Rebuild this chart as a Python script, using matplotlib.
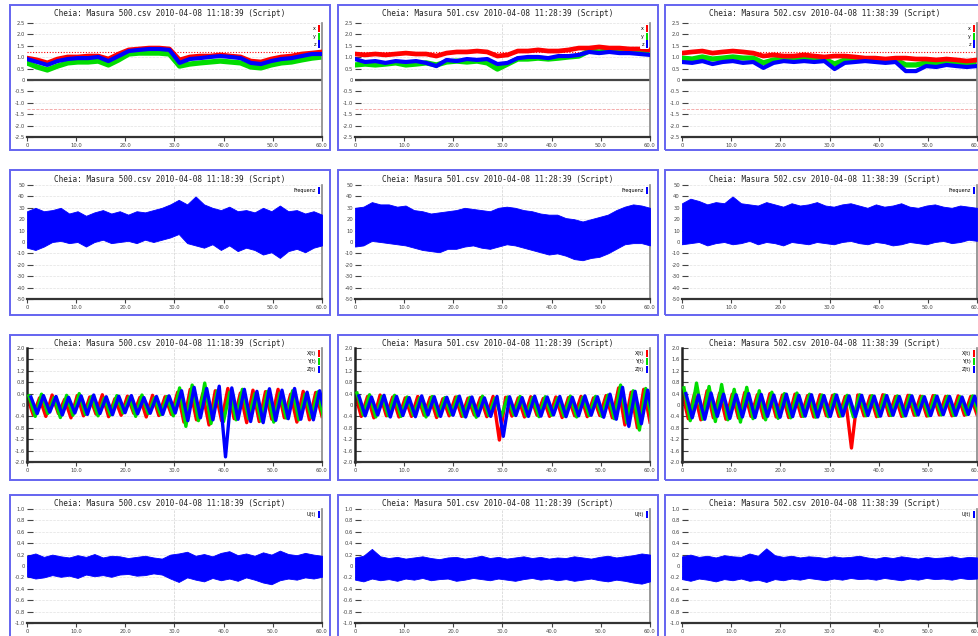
import numpy as np
import matplotlib
matplotlib.use("Agg")
import matplotlib.pyplot as plt
from matplotlib.patches import Rectangle, Patch

# ---------------- data ----------------
files = ["500.csv", "501.csv", "502.csv"]
times = ["11:18:39", "11:28:39", "11:38:39"]
date = "2010-04-08"

x_ticks = [0, 10, 20, 30, 40, 50, 60]
x_labels = ["0", "10.0", "20.0", "30.0", "40.0", "50.0", "60.0"]

# Row 1: three channels per file (x, y, z)
r1_labels = ["x", "y", "z"]
r1_red = [
    [0.96,0.88,0.75,0.92,1.01,1.01,1.05,1.05,0.92,1.14,1.32,1.36,1.40,1.40,1.36,0.88,1.01,1.05,1.05,1.10,1.05,1.01,0.83,0.79,0.92,1.01,1.05,1.14,1.18,1.23],
    [1.14,1.10,1.14,1.10,1.14,1.18,1.14,1.14,1.05,1.18,1.23,1.23,1.27,1.23,1.05,1.10,1.27,1.27,1.32,1.27,1.27,1.32,1.40,1.40,1.45,1.40,1.40,1.36,1.36,1.32],
    [1.18,1.23,1.27,1.18,1.23,1.27,1.23,1.18,1.05,1.10,1.05,1.05,1.10,1.05,1.01,1.05,1.05,1.01,0.96,0.96,0.92,0.96,0.96,0.92,0.92,0.88,0.92,0.88,0.83,0.88],
]
r1_green = [
    [0.75,0.57,0.44,0.61,0.75,0.79,0.79,0.83,0.66,0.88,1.14,1.18,1.18,1.18,1.14,0.61,0.70,0.75,0.79,0.83,0.79,0.75,0.57,0.53,0.66,0.75,0.79,0.88,0.96,1.01],
    [0.66,0.70,0.66,0.70,0.75,0.66,0.70,0.75,0.66,0.79,0.83,0.79,0.83,0.75,0.48,0.70,0.92,0.92,0.96,0.92,0.96,1.01,1.05,1.27,1.23,1.27,1.32,1.27,1.23,1.18],
    [0.96,0.92,1.01,0.92,0.96,1.01,0.96,0.96,0.75,0.88,0.92,0.92,0.96,0.92,0.92,0.70,0.88,0.88,0.88,0.88,0.83,0.88,0.66,0.66,0.75,0.75,0.79,0.75,0.75,0.79],
]
r1_blue = [
    [0.92,0.79,0.66,0.83,0.92,0.96,0.96,1.01,0.83,1.05,1.27,1.32,1.36,1.36,1.32,0.75,0.92,0.96,1.01,1.05,1.01,0.96,0.75,0.70,0.83,0.92,0.96,1.05,1.14,1.14],
    [0.92,0.79,0.83,0.75,0.83,0.79,0.83,0.75,0.61,0.88,0.83,0.92,0.88,0.92,0.70,0.75,0.96,1.01,1.01,0.96,1.05,1.05,1.10,1.23,1.18,1.23,1.18,1.18,1.14,1.10],
    [0.79,0.75,0.83,0.70,0.79,0.83,0.75,0.79,0.53,0.75,0.83,0.79,0.83,0.79,0.83,0.48,0.75,0.79,0.83,0.79,0.75,0.79,0.39,0.39,0.61,0.57,0.66,0.61,0.57,0.61],
]
r1_yticks = [-2.5, -2.0, -1.5, -1.0, -0.5, 0.0, 0.5, 1.0, 1.5, 2.0, 2.5]
r1_limit = 1.25

# Row 2: frequency deviation band (upper / lower envelope)
r2_label = "Frequenz"
r2_upper = [
    [27,30,27,28,30,25,27,23,26,28,25,27,24,27,26,28,30,33,37,33,40,33,30,28,31,27,28,26,30,27,32,27,28,25,27,24],
    [30,31,35,33,33,31,32,28,27,25,26,27,28,30,29,28,27,30,31,30,28,27,25,24,24,21,20,18,20,22,24,28,31,33,32,30],
    [34,38,36,33,35,34,40,34,33,32,35,33,31,34,32,33,35,32,31,33,34,32,30,33,31,32,34,31,30,32,33,31,30,32,31,30],
]
r2_lower = [
    [-5,-7,-4,0,1,-1,0,-4,0,2,-1,0,1,-1,2,0,2,4,7,-1,-3,-5,-2,-7,-3,-8,-5,-7,-11,-9,-14,-8,-6,-9,-5,-3],
    [-4,-3,1,0,-1,-2,-3,-5,-7,-8,-9,-6,-6,-4,-3,-5,-6,-4,-2,-3,-5,-7,-9,-11,-10,-12,-15,-16,-14,-13,-10,-6,-2,-1,-1,-3],
    [-2,-1,0,-3,-1,0,-2,-1,1,-2,0,-1,-3,0,-1,-2,0,-1,-2,0,1,-1,-2,0,-1,-3,-2,0,-1,-2,0,1,-1,0,2,1],
]
r2_yticks = [-50, -40, -30, -20, -10, 0, 10, 20, 30, 40, 50]

# Row 3: three signals, sampled peaks/troughs
r3_labels = ["X(t)", "Y(t)", "Z(t)"]
r3_red = [
    [0.30,-0.35,0.25,-0.40,0.35,-0.30,0.20,-0.45,0.33,-0.38,0.28,-0.32,0.36,-0.41,0.22,-0.36,0.31,-0.29,0.27,-0.42,0.34,-0.37,0.29,-0.33,0.45,-0.60,0.55,-0.52,0.40,-0.70,0.50,-0.55,0.58,-0.48,0.42,-0.62,0.52,-0.58,0.47,-0.50,0.55,-0.45,0.38,-0.60,0.48,-0.52,0.44,-0.40],
    [0.38,-0.40,0.30,-0.45,0.35,-0.38,0.28,-0.42,0.25,-0.40,0.30,-0.36,0.27,-0.44,0.22,-0.38,0.28,-0.40,0.24,-0.35,0.26,-0.41,0.30,-1.23,0.27,-0.39,0.25,-0.42,0.29,-0.36,0.23,-0.40,0.28,-0.44,0.26,-0.38,0.30,-0.41,0.25,-0.37,0.33,-0.45,0.60,-0.70,0.45,-0.80,0.55,-0.60],
    [0.45,-0.48,0.40,-0.52,0.50,-0.45,0.42,-0.50,0.38,-0.46,0.44,-0.40,0.36,-0.45,0.40,-0.42,0.35,-0.44,0.38,-0.40,0.33,-0.42,0.36,-0.38,0.34,-0.40,0.30,-1.51,0.35,-0.38,0.32,-0.41,0.36,-0.37,0.30,-0.40,0.34,-0.36,0.31,-0.39,0.33,-0.35,0.30,-0.38,0.32,-0.36,0.30,-0.34],
]
r3_green = [
    [0.32,-0.40,0.38,-0.30,0.26,-0.44,0.34,-0.36,0.40,-0.33,0.30,-0.38,0.24,-0.35,0.33,-0.28,0.28,-0.40,0.35,-0.30,0.25,-0.34,0.30,-0.38,0.60,-0.75,0.70,-0.55,0.77,-0.65,0.50,-0.58,0.45,-0.52,0.55,-0.48,0.40,-0.56,0.48,-0.60,0.42,-0.46,0.50,-0.52,0.38,-0.44,0.46,-0.50],
    [0.42,-0.35,0.36,-0.42,0.30,-0.38,0.34,-0.40,0.28,-0.36,0.25,-0.42,0.30,-0.38,0.26,-0.34,0.29,-0.39,0.27,-0.43,0.31,-0.37,0.24,-0.40,0.28,-0.35,0.30,-0.38,0.26,-0.41,0.29,-0.36,0.25,-0.39,0.31,-0.42,0.27,-0.37,0.30,-0.40,0.35,-0.48,0.70,-0.62,0.50,-0.88,0.58,-0.55],
    [0.60,-0.55,0.77,-0.50,0.65,-0.58,0.72,-0.52,0.55,-0.60,0.62,-0.48,0.50,-0.52,0.45,-0.47,0.40,-0.45,0.42,-0.40,0.38,-0.43,0.35,-0.41,0.37,-0.39,0.34,-0.42,0.36,-0.38,0.33,-0.40,0.35,-0.37,0.32,-0.39,0.34,-0.36,0.30,-0.38,0.33,-0.35,0.31,-0.37,0.29,-0.34,0.32,-0.36],
]
r3_blue = [
    [0.28,-0.30,0.33,-0.25,0.30,-0.35,0.27,-0.28,0.32,-0.33,0.35,-0.30,0.29,-0.34,0.31,-0.27,0.33,-0.31,0.26,-0.29,0.30,-0.33,0.32,-0.28,0.50,-0.55,0.62,-0.45,0.58,-0.52,0.66,-1.82,0.60,-0.50,0.55,-0.58,0.48,-0.62,0.57,-0.54,0.52,-0.48,0.58,-0.50,0.45,-0.52,0.50,-0.46],
    [0.32,-0.38,0.28,-0.35,0.34,-0.42,0.30,-0.37,0.26,-0.41,0.32,-0.35,0.29,-0.40,0.27,-0.36,0.31,-0.42,0.28,-0.38,0.25,-0.40,0.30,-1.10,0.29,-0.37,0.26,-0.40,0.31,-0.39,0.28,-0.35,0.30,-0.41,0.27,-0.38,0.32,-0.36,0.29,-0.43,0.38,-0.50,0.62,-0.75,0.48,-0.66,0.52,-0.58],
    [0.40,-0.45,0.35,-0.50,0.42,-0.40,0.38,-0.47,0.36,-0.42,0.40,-0.44,0.37,-0.40,0.35,-0.43,0.38,-0.41,0.34,-0.39,0.36,-0.42,0.33,-0.40,0.35,-0.38,0.32,-0.41,0.34,-0.37,0.31,-0.39,0.33,-0.36,0.30,-0.38,0.32,-0.35,0.29,-0.37,0.31,-0.34,0.30,-0.36,0.28,-0.33,0.31,-0.35],
]
r3_yticks = [-2.0, -1.6, -1.2, -0.8, -0.4, 0.0, 0.4, 0.8, 1.2, 1.6, 2.0]

# Row 4: voltage band (upper / lower envelope)
r4_label = "U(t)"
r4_upper = [
    [0.18,0.22,0.16,0.20,0.17,0.15,0.19,0.16,0.21,0.15,0.18,0.17,0.14,0.16,0.18,0.15,0.13,0.20,0.22,0.25,0.18,0.21,0.17,0.23,0.26,0.19,0.22,0.18,0.24,0.20,0.27,0.21,0.19,0.23,0.20,0.18],
    [0.15,0.18,0.30,0.17,0.14,0.16,0.13,0.15,0.17,0.14,0.12,0.15,0.16,0.13,0.15,0.18,0.14,0.16,0.13,0.15,0.17,0.14,0.16,0.13,0.15,0.14,0.17,0.15,0.13,0.16,0.18,0.15,0.17,0.19,0.22,0.20],
    [0.17,0.20,0.16,0.18,0.15,0.19,0.17,0.16,0.22,0.18,0.31,0.19,0.16,0.18,0.15,0.17,0.16,0.14,0.17,0.15,0.16,0.18,0.15,0.13,0.16,0.14,0.17,0.15,0.13,0.16,0.14,0.15,0.17,0.14,0.16,0.15],
]
r4_lower = [
    [-0.18,-0.22,-0.20,-0.16,-0.19,-0.17,-0.21,-0.15,-0.18,-0.16,-0.19,-0.15,-0.14,-0.17,-0.16,-0.13,-0.15,-0.22,-0.28,-0.20,-0.24,-0.27,-0.21,-0.25,-0.22,-0.26,-0.20,-0.24,-0.29,-0.32,-0.25,-0.22,-0.24,-0.20,-0.22,-0.19],
    [-0.24,-0.27,-0.22,-0.25,-0.23,-0.26,-0.22,-0.24,-0.21,-0.25,-0.23,-0.22,-0.26,-0.24,-0.21,-0.23,-0.25,-0.22,-0.24,-0.26,-0.23,-0.21,-0.24,-0.22,-0.25,-0.23,-0.26,-0.24,-0.22,-0.25,-0.27,-0.24,-0.26,-0.29,-0.31,-0.27],
    [-0.23,-0.26,-0.22,-0.24,-0.27,-0.23,-0.25,-0.22,-0.26,-0.24,-0.28,-0.23,-0.25,-0.22,-0.24,-0.21,-0.23,-0.25,-0.22,-0.24,-0.21,-0.23,-0.22,-0.24,-0.21,-0.23,-0.25,-0.22,-0.24,-0.21,-0.23,-0.22,-0.24,-0.21,-0.23,-0.22],
]
r4_yticks = [-1.0, -0.8, -0.6, -0.4, -0.2, 0.0, 0.2, 0.4, 0.6, 0.8, 1.0]

# ---------------- layout / style ----------------
W, H = 979, 636
fig = plt.figure(figsize=(W / 100, H / 100), dpi=100)
fig.patch.set_facecolor("white")

RED, GREEN, BLUE = "#ff0000", "#00dd00", "#0000ff"
BOX = "#6464f0"
col_left = [10, 338, 665]
box_w = 320
row_top = [5, 170, 335, 495]
box_h = 145
plot_top = [23, 185, 348, 509]
plot_h = 114
plot_dx = 17
plot_w = 295
T_MAX = 60.0


def add_px_axes(left, top, width, height):
    return fig.add_axes([left / W, 1 - (top + height) / H, width / W, height / H])


def style(ax, yticks, fmt, left_spine=False):
    ax.set_xlim(0, T_MAX)
    ax.set_ylim(yticks[0], yticks[-1])
    ax.set_xticks(x_ticks)
    ax.set_xticklabels(x_labels)
    ax.set_yticks(yticks)
    ax.set_yticklabels([fmt.format(v) if abs(v) > 1e-9 else "0" for v in yticks])
    ax.spines["top"].set_visible(False)
    ax.spines["left"].set_visible(left_spine)
    ax.spines["left"].set_color("#222222")
    ax.spines["left"].set_linewidth(1.8)
    ax.spines["right"].set_color("#888888")
    ax.spines["right"].set_linewidth(1.2)
    ax.spines["bottom"].set_color("#333333")
    ax.spines["bottom"].set_linewidth(1.6)
    ax.tick_params(axis="both", labelsize=3.8, colors="#444444", length=3, width=0.8, pad=1.5)
    ax.tick_params(axis="y", direction="in", length=4)
    ax.yaxis.grid(True, color="#e2e2e2", ls="--", lw=0.5)
    ax.set_axisbelow(True)
    ax.axvline(30, color="#d0d0d0", lw=0.5, ls="--", zorder=0)


def legend(ax, colors, labels):
    handles = [Patch(facecolor=c, edgecolor="none") for c in colors]
    leg = ax.legend(handles, labels, loc="upper right", fontsize=3.5, frameon=True,
                    facecolor="white", edgecolor="none", framealpha=1.0,
                    handlelength=0.35, handleheight=1.9, handletextpad=0.5,
                    labelspacing=0.12, borderpad=0.25, borderaxespad=0.15,
                    markerfirst=False)
    leg.set_zorder(10)


for c in range(3):
    bx = col_left[c]
    title = f"Cheia: Masura {files[c]} {date} {times[c]} (Script)"
    for r in range(4):
        by = row_top[r]
        fig.patches.append(Rectangle((bx / W, 1 - (by + box_h) / H), box_w / W, box_h / H,
                                     transform=fig.transFigure, fill=False,
                                     edgecolor=BOX, lw=1.4))
        fig.text((bx + box_w / 2) / W, 1 - (by + 9) / H, title, ha="center", va="center",
                 fontsize=5.6, family="DejaVu Sans Mono", color="#222222")
        ax = add_px_axes(bx + plot_dx, plot_top[r], plot_w, plot_h)

        if r == 0:
            style(ax, r1_yticks, "{:.1f}")
            xs = np.linspace(0, T_MAX, len(r1_red[c]))
            ax.axhline(0, color="#444444", lw=1.6, zorder=1)
            ax.axhline(r1_limit, color=RED, lw=0.8, ls=(0, (1, 1.5)), zorder=1)
            ax.axhline(-r1_limit, color="#f2a0a0", lw=0.6, ls="--", zorder=1)
            ax.plot(xs, r1_green[c], color=GREEN, lw=3.8, zorder=2)
            ax.plot(xs, r1_red[c], color=RED, lw=3.4, zorder=3)
            ax.plot(xs, r1_blue[c], color=BLUE, lw=3.0, zorder=4)
            legend(ax, [RED, GREEN, BLUE], r1_labels)
        elif r == 1:
            style(ax, r2_yticks, "{:d}")
            xs = np.linspace(0, T_MAX, len(r2_upper[c]))
            ax.fill_between(xs, r2_lower[c], r2_upper[c], color=BLUE, lw=0.6, zorder=3)
            legend(ax, [BLUE], [r2_label])
        elif r == 2:
            style(ax, r3_yticks, "{:.1f}", left_spine=True)
            xs = np.linspace(0, T_MAX, len(r3_red[c]))
            ax.plot(xs, r3_red[c], color=RED, lw=2.4, zorder=2)
            ax.plot(xs + T_MAX / 150, r3_green[c], color=GREEN, lw=2.4, zorder=3)
            ax.plot(xs + T_MAX / 75, r3_blue[c], color=BLUE, lw=2.4, zorder=4)
            ax.set_xlim(0, T_MAX)
            legend(ax, [RED, GREEN, BLUE], r3_labels)
        else:
            style(ax, r4_yticks, "{:.1f}")
            xs = np.linspace(0, T_MAX, len(r4_upper[c]))
            ax.fill_between(xs, r4_lower[c], r4_upper[c], color=BLUE, lw=0.6, zorder=3)
            legend(ax, [BLUE], [r4_label])

fig.savefig("out.png", dpi=100, facecolor="white")
